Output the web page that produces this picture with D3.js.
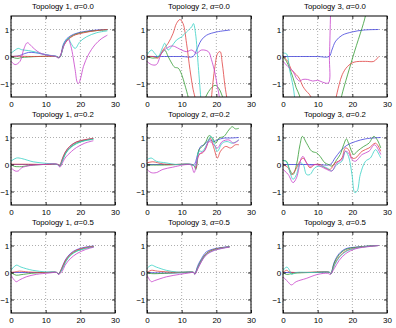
<!DOCTYPE html>
<html>
<head>
<meta charset="utf-8">
<title>Topology responses</title>
<script src="https://d3js.org/d3.v7.min.js"></script>
<style>
  body { margin: 0; background: #fff; }
  text { font-family: "Liberation Sans", Arial, sans-serif; fill: #000; }
</style>
</head>
<body>
<div id="chart"></div>
<script>
// series order in every panel: blue, green, red, cyan, magenta
var seriesColors = ['#4242dc', '#339c33', '#e04040', '#36d0c4', '#c640ca'];
var xTicks = [0, 10, 20, 30];
var yTicks = [-1, 0, 1];
var titles = ['Topology 1, α=0.0', 'Topology 2, α=0.0', 'Topology 3, α=0.0',
              'Topology 1, α=0.2', 'Topology 2, α=0.2', 'Topology 3, α=0.2',
              'Topology 1, α=0.5', 'Topology 3, α=0.5', 'Topology 3, α=0.5'];

// null splits a line where it leaves the axes
var topo1a00 = [
  [[0,0],[2,0.02],[3,0.06],[5,0.15],[7,0.14],[9,0.09],[11,0.04],[13,0.01],[14,-0.04],[15.1,0.45],[16.1,0.66],[18,0.82],[20.9,0.92],[24.7,0.98],[27.8,1.0]],
  [[0,0],[1,-0.05],[2,-0.07],[3,-0.04],[5,-0.02],[8,0],[13,0],[14,-0.04],[15.2,0.42],[16.2,0.62],[18,0.79],[21,0.9],[24.7,0.96],[27.8,0.99]],
  [[0,0],[2,0.01],[6,0],[13,0],[14,-0.03],[15.2,0.4],[16.3,0.6],[18,0.77],[21,0.88],[24.7,0.96],[27.8,1.0]],
  [[0,0.12],[1.2,0.24],[2.1,0.3],[3.1,0.25],[5,0.22],[7,0.17],[9,0.1],[11,0.05],[13,0.01],[14,-0.03],[15.6,0.55],[16.5,0.68],[17.3,0.49],[18.5,0.3],[19.9,0.55],[21.8,0.73],[24.7,0.88],[27.8,0.95]],
  [[0,-0.18],[1.2,-0.3],[2.6,-0.18],[3.6,0.24],[4.7,0.51],[6,0.37],[7.5,0.2],[9,0.1],[11,0.04],[13,0],[13.7,-0.06],[15.6,0.49],[16.5,0.63],[17.3,0.37],[18.5,-0.49],[19.1,-0.95],[19.5,-1.0],[20.1,-0.8],[20.9,-0.37],[22.3,0.06],[24.2,0.43],[26,0.65],[27.8,0.79]]
];
var topo2a00 = [
  [[0,0],[5,0],[10,0],[13.3,0],[14.3,0.24],[15.7,0.61],[17.2,0.79],[20.1,0.91],[24,0.98]],
  [[0,0],[1.7,-0.06],[3.2,-0.02],[4.2,0.12],[5.1,0.24],[6.1,0],[7.1,-0.24],[8,-0.4],[9,-0.43],[10,-0.67],[10.9,-1.04],[11.9,-1.52],[12.3,-1.8], null,
   [16.5,-1.8],[16.7,-1.58],[18.2,-1.22],[19.6,-1.07],[20.6,-1.16],[22,-1.58],[22.3,-1.8]],
  [[0,0],[1.7,0],[3.2,-0.06],[4.6,0.24],[6.1,0.49],[7.5,0.85],[8.5,1.22],[9.5,1.37],[10.4,1.22],[11.4,0.49],[12.4,-0.49],[13.3,-1.22],[14,-1.6],[14.3,-1.9], null,
   [18.4,-1.9],[18.6,-1.52],[19.6,-0.37],[20.4,0.12],[21.1,0.18],[21.7,-0.24],[22.5,-1.1],[23,-1.52],[23.3,-1.9]],
  [[0,0.06],[1.3,0.24],[2.2,0.12],[3.2,0],[4.6,0.37],[5.1,0.49],[6.1,0.24],[7.1,0.37],[8.5,0.61],[10,0.73],[11.4,0.91],[12.9,1.1],[13.4,1.22],[14,0.85],[14.8,-0.37],[15.5,-1.52],[15.7,-1.9]],
  [[0,-0.18],[1.3,-0.3],[2.7,-0.3],[4.2,0.12],[5.6,0.3],[7.1,0.39],[8,0.37],[9.5,0.27],[11.4,0.18],[12.9,0.24],[14.3,0.12],[15.7,0.24],[17.7,0.18],[18.6,-0.12],[19.6,-0.61],[20.3,-1.1],[20.9,-1.52],[21.1,-1.9]]
];
var topo3a00 = [
  [[0,0],[5,0],[10,0],[13.3,0],[14.1,0.24],[15.2,0.57],[17.1,0.79],[20,0.91],[23.3,0.98],[27.6,1.0]],
  [[0,0],[1,-0.18],[1.9,-0.43],[2.9,-0.79],[3.8,-1.16],[4.8,-1.46],[5.3,-1.9], null,
   [16.5,-1.8],[16.7,-1.58],[20.2,0],[23.8,1.52],[24,1.8]],
  [[0,0],[1.4,-0.18],[2.4,-0.49],[3.8,-0.67],[4.8,-0.83],[5.7,-1.1],[6.7,-1.28],[7.6,-1.4],[8.4,-1.6],[8.8,-1.9], null,
   [14.9,-1.9],[15.2,-1.6],[16.2,-1.04],[17.1,-0.67],[18.6,-0.37],[20.5,-0.21],[23.8,-0.18],[26.2,-0.18],[27.6,0]],
  [[0,0.12],[1,0.1],[1.9,-0.49],[2.9,-1.1],[3.3,-1.46],[3.6,-1.9]],
  [[0,-0.18],[1.4,-0.37],[2.9,-0.55],[3.8,-0.79],[4.8,-0.91],[5.7,-0.85],[7.1,-0.85],[8.6,-0.91],[10,-0.88],[11.4,-0.95],[13.1,-0.98],[13.4,0],[13.7,1.5],[13.8,1.9]]
];
var topo1a02 = [
  [[0,0],[5,0],[10,0],[13.5,0],[14.1,-0.05],[14.6,0.12],[15.6,0.43],[17,0.67],[18.9,0.83],[21.3,0.91],[23.75,0.96]],
  [[0,0],[1,-0.07],[2,-0.08],[3,-0.08],[5,-0.04],[8,-0.01],[13.5,0],[14.1,-0.06],[14.7,0.1],[15.7,0.4],[17,0.62],[18.9,0.79],[21.3,0.89],[23.75,0.94]],
  [[0,0.01],[5,0.01],[10,0],[13.5,0],[14.1,-0.04],[14.6,0.14],[15.6,0.45],[17,0.68],[18.9,0.84],[21.3,0.92],[23.75,0.97]],
  [[0,0.12],[1.6,0.24],[3.1,0.22],[6.4,0.1],[10.3,0.04],[13.2,0],[14.1,-0.05],[14.7,0.1],[15.7,0.39],[17,0.6],[18.9,0.77],[21.3,0.88],[23.75,0.93]],
  [[0,-0.12],[1.2,-0.24],[2.1,-0.24],[3.1,-0.12],[5.5,-0.04],[9,0],[13.5,0],[14.1,-0.1],[15,0.1],[15.6,0.24],[16.5,0.37],[17.5,0.49],[18.9,0.63],[21.3,0.79],[23.75,0.88]]
];
var topo2a02 = [
  [[0,0],[5,0],[10,0],[12.7,0.01],[13.6,0],[14.6,0.37],[15.5,0.67],[16.5,0.73],[17.9,0.91],[19.3,0.85],[20.3,0.91],[22.2,0.98],[24.1,0.98],[26.5,1.0]],
  [[0,-0.02],[5,-0.02],[10,0],[12.7,0],[13.6,-0.05],[14.1,-0.18],[15,0.55],[16,0.67],[17,0.85],[17.9,1.07],[18.9,0.98],[19.8,0.79],[20.8,0.98],[22.2,1.04],[23.6,1.28],[24.6,1.4],[25.5,1.32],[26.5,1.34]],
  [[0,0.06],[1.7,0.1],[4.6,0.02],[8,0],[11,0.02],[12.7,0],[13.6,-0.05],[14.1,-0.12],[15,0.37],[16,0.43],[17,0.61],[18.2,0.98],[19.3,0.61],[20.3,0.24],[21.2,0.49],[22.7,0.67],[24.1,0.61],[25.5,0.73],[26.5,0.73]],
  [[0,0.18],[1.2,0.24],[2.7,0.12],[5.5,0.06],[8.4,0],[11,0.02],[12.7,0],[13.6,-0.05],[14.1,-0.06],[15,0.49],[16,0.49],[17.4,0.79],[18.4,1.04],[19.3,0.79],[20.3,0.49],[21.7,0.79],[23.1,0.85],[24.6,0.79],[26.5,0.91]],
  [[0,-0.18],[1.2,-0.3],[2.7,-0.3],[4.6,-0.18],[7.4,-0.1],[10.3,-0.02],[11.7,0],[12.7,-0.02],[13.6,-0.3],[14.6,0.24],[15.5,0.43],[16.5,0.49],[17.9,0.85],[19.3,0.73],[20.3,0.61],[21.7,0.85],[23.6,0.91],[25,0.79],[26.5,0.91]]
];
var topo3a02 = [
  [[0,0],[5,0],[10,0],[13.6,0],[15,0.24],[16.5,0.49],[18.4,0.71],[20.9,0.85],[23.8,0.95],[28.2,1.0]],
  [[0,0.15],[1,0.12],[1.9,-0.18],[2.9,-0.37],[3.9,0],[4.9,0.73],[5.6,1.04],[6.8,0.79],[8.3,0.49],[9.7,0.43],[10.7,0.3],[12.1,0.06],[13.1,0],[14.1,-0.06],[15.5,0.18],[16.5,0.37],[17.5,0.73],[18.3,0.95],[18.9,0.79],[20.4,0.37],[21.4,0.49],[23.3,0.67],[24.8,0.79],[26.2,1.04],[27.2,0.91],[28.2,0.61]],
  [[0,0],[1.5,-0.12],[2.4,-0.37],[3.4,-0.24],[4.9,0.12],[5.8,0.24],[6.8,0.06],[7.8,-0.12],[9.2,0],[10.7,0],[12.1,-0.12],[13.6,-0.18],[15,0.06],[16,0.12],[17,0.24],[18,0.61],[18.9,0.55],[19.9,0.24],[20.9,0.24],[22.8,0.49],[24.8,0.61],[26.7,0.79],[28.2,0.49]],
  [[0,0.15],[1,0.1],[1.9,-0.24],[2.9,-0.55],[3.9,-0.37],[4.9,0.06],[5.8,0],[6.8,-0.37],[7.8,-0.37],[9.2,-0.12],[10.7,-0.06],[12.6,-0.12],[14.1,-0.24],[15.5,0],[17,0.12],[18,0.49],[18.9,0.3],[19.9,-0.37],[20.7,-1.04],[21.4,-0.98],[22.3,-0.37],[23.8,0.12],[25.2,0.24],[26.7,0.55],[27.7,0.37],[28.2,0.24]],
  [[0,-0.18],[1.5,-0.37],[2.9,-0.67],[3.9,-0.49],[5.3,0.24],[5.8,0.3],[6.8,0.06],[7.8,-0.06],[9.2,0],[10.7,-0.06],[12.6,-0.18],[14.1,-0.24],[15.5,0.06],[17,0.18],[18,0.49],[18.9,0.43],[19.9,0.18],[20.9,0.12],[22.8,0.37],[24.8,0.49],[26.4,0.73],[28.2,0.37]]
];
var topo1a05 = [
  [[0,0],[5,0],[10,0],[13.2,0],[13.7,-0.05],[14.6,0.15],[15.6,0.45],[17.1,0.7],[19,0.85],[21.5,0.94],[23.9,0.98]],
  [[0,0],[1.5,-0.1],[2.9,-0.08],[6,-0.03],[10,0],[13.2,0],[13.7,-0.06],[14.7,0.12],[15.7,0.4],[17.1,0.64],[19,0.8],[21.5,0.9],[23.9,0.96]],
  [[0,0],[1.5,0.03],[2.4,0.05],[5,0.02],[10,0],[13.2,0],[13.7,-0.06],[14.6,0.13],[15.6,0.42],[17.1,0.67],[19,0.83],[21.5,0.92],[23.9,0.97]],
  [[0,0.08],[1.5,0.27],[2.9,0.2],[6.3,0.08],[10.2,0.02],[13.2,0],[13.7,-0.06],[14.7,0.1],[15.7,0.37],[17.1,0.62],[19,0.79],[21.5,0.89],[23.9,0.95]],
  [[0,-0.1],[1.5,-0.34],[2.4,-0.28],[4.4,-0.16],[7.3,-0.07],[11,-0.02],[13.2,0],[13.7,-0.07],[14.8,0.05],[15.6,0.27],[17.1,0.51],[19,0.7],[21.5,0.85],[23.9,0.94]]
];
var topo3a05b = [
  [[0,0],[5,-0.02],[10,-0.01],[13.5,0],[13.75,-0.06],[14.7,0.27],[15.7,0.51],[17.1,0.76],[19.5,0.88],[23.8,0.96]],
  [[0,0],[1.25,-0.04],[5,-0.03],[10,0],[13.5,0],[13.8,-0.06],[14.8,0.24],[15.8,0.48],[17.2,0.72],[19.5,0.86],[23.8,0.95]],
  [[0,0],[1.25,0.08],[3,0.05],[8,0.01],[13.5,0],[13.8,-0.05],[14.8,0.2],[15.8,0.45],[17.2,0.7],[19.5,0.85],[23.8,0.95]],
  [[0,0.15],[1.25,0.27],[2.7,0.2],[5.6,0.08],[8.5,0.02],[13.5,0],[13.8,-0.05],[14.8,0.2],[15.8,0.44],[17.2,0.68],[19.5,0.83],[23.8,0.95]],
  [[0,-0.1],[1.25,-0.34],[2.2,-0.3],[5.6,-0.16],[9.4,-0.07],[12,-0.02],[13.5,0],[13.8,-0.07],[14.7,0.15],[15.7,0.4],[17.1,0.65],[19.5,0.82],[23.8,0.94]]
];
var topo3a05 = [
  [[0,0],[5,0],[10,0],[13.5,0],[13.8,-0.05],[14.8,0.39],[16.2,0.7],[18.1,0.88],[21,0.94],[24.8,0.98],[27.6,1.0]],
  [[0,0],[1,-0.07],[3,-0.03],[8,0],[13.5,0],[13.8,-0.06],[14.8,0.35],[16.2,0.66],[18.1,0.85],[21,0.93],[24.8,0.98],[27.6,1.0]],
  [[0,0],[1,0.08],[1.9,0.02],[5,0],[13.5,0],[13.8,-0.06],[14.9,0.3],[16.3,0.6],[18.2,0.8],[21,0.91],[24.8,0.97],[27.6,1.0]],
  [[0,0.08],[1.1,0.2],[1.9,0.08],[2.4,-0.07],[3.8,0],[8,0],[13.5,0],[13.8,-0.06],[14.9,0.28],[16.3,0.57],[18.2,0.78],[21,0.9],[24.8,0.97],[27.6,1.0]],
  [[0,-0.16],[1.4,-0.34],[2.4,-0.46],[3.8,-0.34],[6.7,-0.22],[10,-0.07],[12.9,-0.03],[13.6,-0.07],[14.8,0.15],[16.2,0.45],[18.1,0.7],[21,0.88],[24.8,0.96],[27.6,1.0]]
];

var panels = [topo1a00, topo2a00, topo3a00, topo1a02, topo2a02, topo3a02, topo1a05, topo3a05b, topo3a05];

var W = 396, H = 328;
var lefts = [11, 147, 283], tops = [16, 124, 232];
var pw = 104, ph = 81;

var svg = d3.select('#chart').append('svg')
    .attr('width', W)
    .attr('height', H);

var x = d3.scaleLinear().domain([0, 30]).range([0, pw]);
var y = d3.scaleLinear().domain([-1.5, 1.5]).range([ph, 0]);

var line = d3.line()
    .defined(function(d) { return d !== null; })
    .x(function(d) { return x(d[0]); })
    .y(function(d) { return y(d[1]); })
    .curve(d3.curveCatmullRom.alpha(0.5));

panels.forEach(function(series, i) {
  var g = svg.append('g')
      .attr('transform', 'translate(' + lefts[i % 3] + ',' + tops[Math.floor(i / 3)] + ')');

  g.append('clipPath').attr('id', 'clip' + i)
    .append('rect').attr('width', pw).attr('height', ph);

  // dotted grid
  g.selectAll('.gx').data(xTicks).enter().append('line')
      .attr('x1', function(d) { return x(d); }).attr('x2', function(d) { return x(d); })
      .attr('y1', 0).attr('y2', ph)
      .attr('stroke', '#999').attr('stroke-width', 0.8).attr('stroke-dasharray', '1,2');
  g.selectAll('.gy').data(yTicks).enter().append('line')
      .attr('y1', function(d) { return y(d); }).attr('y2', function(d) { return y(d); })
      .attr('x1', 0).attr('x2', pw)
      .attr('stroke', '#999').attr('stroke-width', 0.8).attr('stroke-dasharray', '1,2');

  g.append('g').attr('clip-path', 'url(#clip' + i + ')')
    .selectAll('path').data(series).enter().append('path')
      .attr('d', line)
      .attr('fill', 'none')
      .attr('stroke', function(d, k) { return seriesColors[k]; })
      .attr('stroke-width', 0.8);

  // inward ticks on all four sides
  g.append('g').attr('transform', 'translate(0,' + ph + ')')
    .call(d3.axisBottom(x).tickValues(xTicks).tickSize(-3).tickPadding(4).tickFormat(d3.format('d')));
  g.append('g').attr('class', 'yax')
    .call(d3.axisLeft(y).tickValues(yTicks).tickSize(-3).tickPadding(2.5).tickFormat(d3.format('d')));
  g.append('g')
    .call(d3.axisTop(x).tickValues(xTicks).tickSize(-3).tickFormat(''));
  g.append('g').attr('transform', 'translate(' + pw + ',0)')
    .call(d3.axisRight(y).tickValues(yTicks).tickSize(-3).tickFormat(''));

  g.append('rect')
      .attr('width', pw).attr('height', ph)
      .attr('fill', 'none').attr('stroke', '#000').attr('stroke-width', 1);

  var parts = titles[i].split('α');
  var t = g.append('text')
      .attr('x', pw / 2).attr('y', -7.5)
      .attr('text-anchor', 'middle')
      .style('font-size', '7.8px');
  t.append('tspan').text(parts[0]);
  t.append('tspan').style('font-style', 'italic').text('α');
  t.append('tspan').text(parts[1]);
});

svg.selectAll('.domain').remove();
svg.selectAll('.tick line').attr('stroke', '#000').attr('stroke-width', 0.8);
svg.selectAll('.tick text')
    .style('font-size', '8px')
    .style('font-family', '"Liberation Sans", Arial, sans-serif');
svg.selectAll('.yax .tick text').style('letter-spacing', '-0.6px');
</script>
</body>
</html>
